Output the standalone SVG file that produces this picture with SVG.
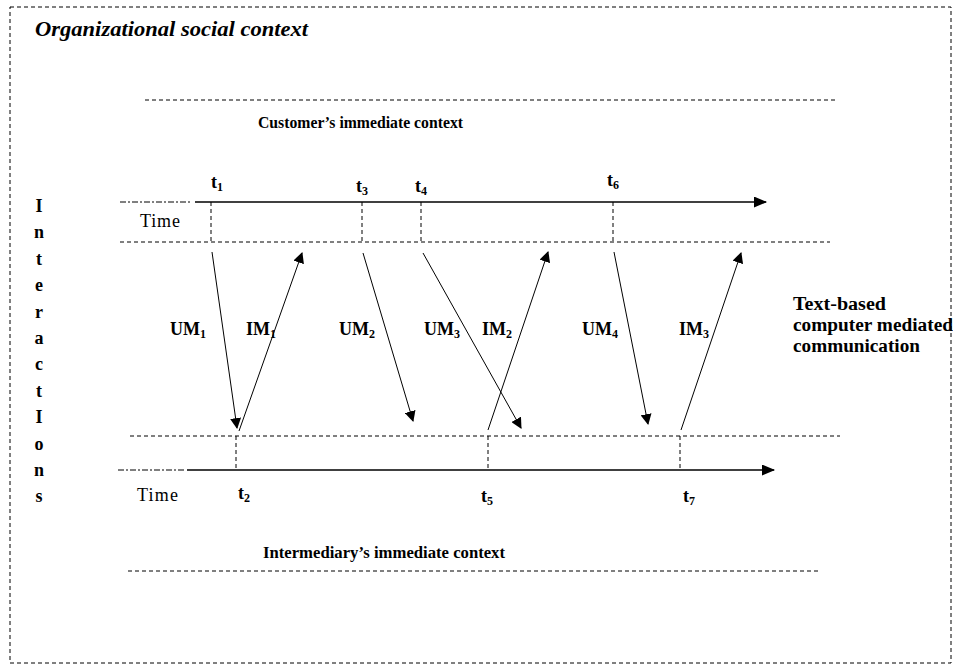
<svg xmlns="http://www.w3.org/2000/svg" width="953" height="665" viewBox="0 0 953 665">
  <style>
    text { font-family: "Liberation Serif", "Times New Roman", serif; font-weight: bold; fill: #000; }
    .lbl { font-size: 18px; }
    .sub { font-size: 12px; }
    .dash { stroke: #000; stroke-width: 1; stroke-dasharray: 4 3; fill: none; }
    .dashdot { stroke: #000; stroke-width: 1; stroke-dasharray: 6 2 2 2; fill: none; }
    .axis { stroke: #000; stroke-width: 1.5; fill: none; }
    .msg { stroke: #000; stroke-width: 1; fill: none; }
  </style>
  <defs>
    <marker id="head" viewBox="0 0 10 10" refX="9" refY="5" markerWidth="11" markerHeight="11" markerUnits="userSpaceOnUse" orient="auto">
      <path d="M0,0 L10,5 L0,10 z" fill="#000"/>
    </marker>
    <marker id="axisHead" viewBox="0 0 12 10" refX="11" refY="5" markerWidth="14" markerHeight="11" markerUnits="userSpaceOnUse" orient="auto">
      <path d="M0,0 L12,5 L0,10 z" fill="#000"/>
    </marker>
  </defs>

  <rect width="953" height="665" fill="#fff"/>

  <!-- outer organizational frame -->
  <g id="organizational-context">
    <path class="dash" d="M10,7 H951 V663 H10 Z" stroke="#666"/>
    <text x="35" y="36" style="font-size:20px;font-style:italic" textLength="273" lengthAdjust="spacingAndGlyphs">Organizational social context</text>
  </g>

  <!-- customer context band -->
  <g id="customer-context">
    <line class="dash" x1="145" y1="100" x2="838" y2="100"/>
    <text x="258" y="128" style="font-size:17px" textLength="205" lengthAdjust="spacingAndGlyphs">Customer’s immediate context</text>
    <line class="dash" x1="120" y1="242" x2="830" y2="242"/>
  </g>

  <!-- customer timeline -->
  <g id="customer-timeline">
    <line class="dashdot" x1="120" y1="202" x2="190" y2="202"/>
    <line class="axis" x1="195" y1="202" x2="766" y2="202" marker-end="url(#axisHead)"/>
    <text class="lbl" x="140" y="227" style="font-weight:normal" textLength="40">Time</text>
    <line class="dash" x1="211" y1="202" x2="211" y2="242"/>
    <line class="dash" x1="362" y1="202" x2="362" y2="242"/>
    <line class="dash" x1="421" y1="202" x2="421" y2="242"/>
    <line class="dash" x1="613" y1="202" x2="613" y2="242"/>
    <text class="lbl" x="211" y="188">t<tspan class="sub" dy="3">1</tspan></text>
    <text class="lbl" x="356" y="192">t<tspan class="sub" dy="3">3</tspan></text>
    <text class="lbl" x="415" y="192">t<tspan class="sub" dy="3">4</tspan></text>
    <text class="lbl" x="607" y="186">t<tspan class="sub" dy="3">6</tspan></text>
  </g>

  <!-- intermediary timeline -->
  <g id="intermediary-timeline">
    <line class="dash" x1="130" y1="436" x2="840" y2="436"/>
    <line class="dashdot" x1="118" y1="470" x2="185" y2="470"/>
    <line class="axis" x1="187" y1="470" x2="774" y2="470" marker-end="url(#axisHead)"/>
    <text class="lbl" x="137" y="501" style="font-weight:normal" textLength="41">Time</text>
    <line class="dash" x1="236" y1="436" x2="236" y2="470"/>
    <line class="dash" x1="488" y1="436" x2="488" y2="470"/>
    <line class="dash" x1="680" y1="436" x2="680" y2="470"/>
    <text class="lbl" x="238" y="499">t<tspan class="sub" dy="3">2</tspan></text>
    <text class="lbl" x="481" y="502">t<tspan class="sub" dy="3">5</tspan></text>
    <text class="lbl" x="683" y="502">t<tspan class="sub" dy="3">7</tspan></text>
  </g>

  <!-- intermediary context band -->
  <g id="intermediary-context">
    <text x="263" y="558" style="font-size:17px" textLength="242" lengthAdjust="spacingAndGlyphs">Intermediary’s immediate context</text>
    <line class="dash" x1="128" y1="571" x2="820" y2="571"/>
  </g>

  <!-- messages exchanged between the two parties -->
  <g id="messages">
    <line class="msg" x1="212" y1="252" x2="237" y2="428" marker-end="url(#head)"/>
    <line class="msg" x1="239" y1="431" x2="302" y2="253" marker-end="url(#head)"/>
    <line class="msg" x1="363" y1="253" x2="413" y2="421" marker-end="url(#head)"/>
    <line class="msg" x1="423" y1="253" x2="521" y2="428" marker-end="url(#head)"/>
    <line class="msg" x1="488" y1="430" x2="548" y2="252" marker-end="url(#head)"/>
    <line class="msg" x1="614" y1="252" x2="648" y2="424" marker-end="url(#head)"/>
    <line class="msg" x1="681" y1="430" x2="741" y2="253" marker-end="url(#head)"/>
  </g>

  <g id="message-labels">
    <text class="lbl" x="170" y="335">UM<tspan class="sub" dy="3">1</tspan></text>
    <text class="lbl" x="246" y="335">IM<tspan class="sub" dy="3">1</tspan></text>
    <text class="lbl" x="339" y="335">UM<tspan class="sub" dy="3">2</tspan></text>
    <text class="lbl" x="424" y="335">UM<tspan class="sub" dy="3">3</tspan></text>
    <text class="lbl" x="482" y="335">IM<tspan class="sub" dy="3">2</tspan></text>
    <text class="lbl" x="582" y="335">UM<tspan class="sub" dy="3">4</tspan></text>
    <text class="lbl" x="679" y="335">IM<tspan class="sub" dy="3">3</tspan></text>
  </g>

  <!-- channel description -->
  <g id="channel">
    <text class="lbl" x="793" y="310" textLength="93" lengthAdjust="spacingAndGlyphs">Text-based</text>
    <text class="lbl" x="793" y="331" textLength="160" lengthAdjust="spacingAndGlyphs">computer mediated</text>
    <text class="lbl" x="793" y="352" textLength="127" lengthAdjust="spacingAndGlyphs">communication</text>
  </g>

  <!-- vertical axis caption -->
  <g id="interactions">
    <text x="39" y="212" text-anchor="middle" class="lbl">I</text>
    <text x="39" y="238" text-anchor="middle" class="lbl">n</text>
    <text x="39" y="265" text-anchor="middle" class="lbl">t</text>
    <text x="39" y="291" text-anchor="middle" class="lbl">e</text>
    <text x="39" y="318" text-anchor="middle" class="lbl">r</text>
    <text x="39" y="344" text-anchor="middle" class="lbl">a</text>
    <text x="39" y="370" text-anchor="middle" class="lbl">c</text>
    <text x="39" y="397" text-anchor="middle" class="lbl">t</text>
    <text x="39" y="423" text-anchor="middle" class="lbl">I</text>
    <text x="39" y="450" text-anchor="middle" class="lbl">o</text>
    <text x="39" y="476" text-anchor="middle" class="lbl">n</text>
    <text x="39" y="502" text-anchor="middle" class="lbl">s</text>
  </g>
</svg>
